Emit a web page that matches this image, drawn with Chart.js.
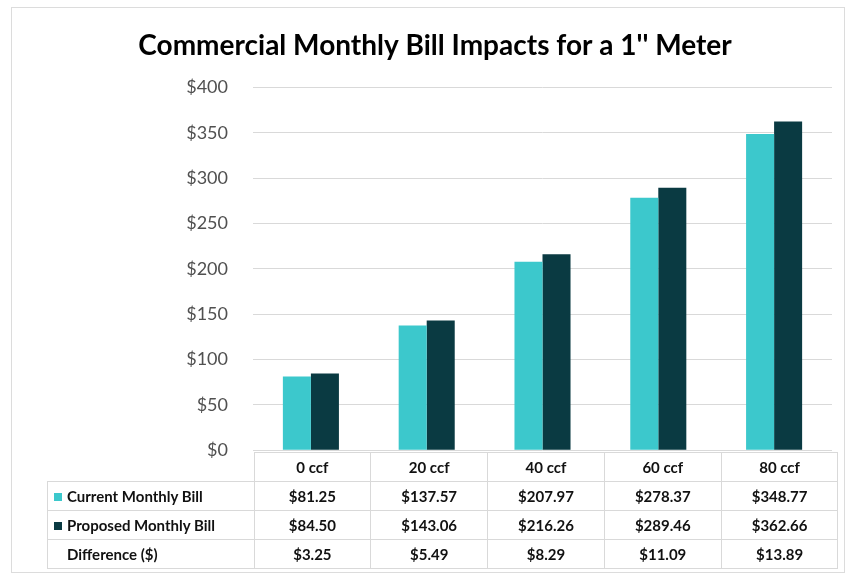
<!DOCTYPE html>
<html>
<head>
<meta charset="utf-8">
<script src="https://cdn.jsdelivr.net/npm/chart.js@4"></script>
<style>
  body { margin:0; background:#fff; font-family: Lato, "Open Sans", sans-serif; }
  #frame { position:absolute; left:11px; top:7px; width:834px; height:566px; border:1px solid #dcdcdc; box-sizing:border-box; }
  #wrap { position:absolute; left:0; top:0; width:852px; height:486px; }
  #tbl { position:absolute; left:47px; top:452px; border-collapse:collapse; font-weight:bold; font-size:15px; color:#111; }
  #tbl td { border:1px solid #d9d9d9; height:28px; padding:0; text-align:center; }
  #tbl td.lbl { text-align:left; padding-left:6px; }
  #tbl td.blank { border:none; }
  .key { display:inline-block; width:8px; height:8px; margin-right:5px; vertical-align:1px; }
</style>
</head>
<body>
<div id="frame"></div>
<div id="wrap"><canvas id="c"></canvas></div>
<table id="tbl"></table>
<script>
const categories = ['0 ccf', '20 ccf', '40 ccf', '60 ccf', '80 ccf'];
const currentBill = [81.25, 137.57, 207.97, 278.37, 348.77];
const proposedBill = [84.50, 143.06, 216.26, 289.46, 362.66];
const difference = [3.25, 5.49, 8.29, 11.09, 13.89];
const yTicks = [0, 50, 100, 150, 200, 250, 300, 350, 400];
const C_CUR = '#3cc8cc', C_PROP = '#0a3a42';

const chart = new Chart(document.getElementById('c'), {
  type: 'bar',
  data: {
    labels: categories,
    datasets: [
      {label:'Current Monthly Bill', data:currentBill, backgroundColor:C_CUR},
      {label:'Proposed Monthly Bill', data:proposedBill, backgroundColor:C_PROP}
    ]
  },
  options: {
    responsive: true,
    maintainAspectRatio: false,
    animation: false,
    datasets: { bar: { categoryPercentage: 0.484, barPercentage: 1 } },
    layout: { padding: { left: 38, right: 20, top: 0, bottom: 20 } },
    plugins: {
      legend: { display: false },
      tooltip: { enabled: false },
      title: {
        display: true,
        text: "Commercial Monthly Bill Impacts for a 1'' Meter",
        color: '#000',
        font: { family: 'Lato', size: 28, weight: 'bold' },
        padding: { top: 29, bottom: 25 }
      }
    },
    scales: {
      x: {
        display: false,
        grid: { display: false }
      },
      y: {
        min: 0, max: 400,
        afterBuildTicks: s => { s.ticks = yTicks.map(v => ({value: v})); },
        afterFit: s => { s.width = 215; },
        border: { display: false },
        grid: { color: '#d9d9d9', drawTicks: false },
        ticks: {
          color: '#505050',
          padding: 25,
          font: { family: 'Lato', size: 18 },
          callback: v => '$' + v
        }
      }
    }
  }
});

// data table under the plot, columns lined up with the category bands
const xs = chart.scales.x;
const band = (xs.right - xs.left) / categories.length;
const money = v => '$' + v.toFixed(2);
const tbl = document.getElementById('tbl');
let html = '<tr><td class="blank" style="width:' + (xs.left - 47) + 'px"></td>';
categories.forEach(c => { html += '<td style="width:' + band + 'px">' + c + '</td>'; });
html += '</tr>';
const rows = [
  ['Current Monthly Bill', C_CUR, currentBill],
  ['Proposed Monthly Bill', C_PROP, proposedBill],
  ['Difference ($)', null, difference]
];
rows.forEach(([name, col, vals]) => {
  html += '<tr><td class="lbl">' + (col ? '<span class="key" style="background:' + col + '"></span>' : '<span class="key"></span>') + name + '</td>';
  vals.forEach(v => { html += '<td>' + money(v) + '</td>'; });
  html += '</tr>';
});
tbl.innerHTML = html;
</script>
</body>
</html>
